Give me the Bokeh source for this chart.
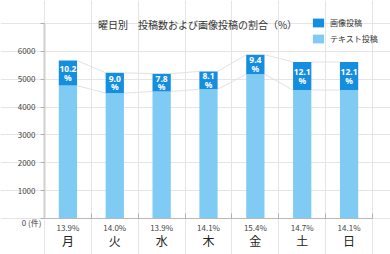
from bokeh.plotting import figure
from bokeh.models import (Range1d, FixedTicker, ColumnDataSource, LabelSet, Label,
                          Legend, LegendItem, LinearAxis)
from bokeh.core.properties import value
from bokeh.embed import file_html
from bokeh.resources import INLINE

# Posts per weekday (counts) and the shares printed on the chart
days = ["月", "火", "水", "木", "金", "土", "日"]
day_share = ["13.9%", "14.0%", "13.9%", "14.1%", "15.4%", "14.7%", "14.1%"]
text_posts = [4770, 4500, 4560, 4640, 5180, 4610, 4610]
image_posts = [900, 730, 640, 640, 700, 1010, 1010]
image_share = ["10.2", "9.0", "7.8", "8.1", "9.4", "12.1", "12.1"]
y_ticks = [0, 1000, 2000, 3000, 4000, 5000, 6000, 7000]

FONT = "Noto Sans CJK JP"
NUM_FONT = "Noto Sans"
LIGHT = "#80cbf4"
DARK = "#158ee0"
BAR_W = 0.39

W, H = 390, 254
# plot area inside the canvas (pixels): axes cross at (LEFT, BOTTOM)
LEFT, RIGHT, TOP, BOTTOM = 44, 372, 23, 218

n = len(days)
centers = [i + 0.5 for i in range(n)]
totals = [t + m for t, m in zip(text_posts, image_posts)]
y_max = y_ticks[-1]

# the frame spans the whole canvas so that titles and labels outside the axes stay visible
px_x = (RIGHT - LEFT) / n
px_y = (BOTTOM - TOP) / y_max
x_range = Range1d(-LEFT / px_x, (W - LEFT) / px_x)
y_range = Range1d(-(H - BOTTOM) / px_y, BOTTOM / px_y)

src = ColumnDataSource(dict(
    x=centers, text=text_posts, total=totals,
    mid=[(t + s) / 2 for t, s in zip(text_posts, totals)],
    share=image_share, pct=["%"] * n, day=days, day_share=day_share, zero=[0] * n,
))

p = figure(width=W, height=H, output_backend="svg", toolbar_location=None,
           x_range=x_range, y_range=y_range, x_axis_location=None, y_axis_location=None,
           min_border=0)
p.outline_line_color = None
p.background_fill_color = "white"
p.border_fill_color = "white"

# series lines joining neighbouring bars at the stack boundaries
for level in ("total", "text"):
    vals = src.data[level]
    p.segment(x0=[c + BAR_W / 2 for c in centers[:-1]], y0=vals[:-1],
              x1=[c - BAR_W / 2 for c in centers[1:]], y1=vals[1:],
              line_color="#e2e2e2", line_width=1)

light = p.vbar(x="x", width=BAR_W, bottom=0, top="text", source=src,
               fill_color=LIGHT, line_color=None)
dark = p.vbar(x="x", width=BAR_W, bottom="text", top="total", source=src,
              fill_color=DARK, line_color=None)

# image-post share inside the dark segment
for col, off in (("share", 4), ("pct", -4)):
    p.add_layout(LabelSet(x="x", y="mid", text=col, source=src, y_offset=off,
                          text_align="center", text_baseline="middle",
                          text_font=value(NUM_FONT), text_font_size="8.5px",
                          text_font_style="bold", text_color="white"))

# category labels under the axis
p.add_layout(LabelSet(x="x", y="zero", text="day_share", source=src, y_offset=-9,
                      text_align="center", text_baseline="middle",
                      text_font=value(FONT), text_font_size="8px", text_color="#444444"))
p.add_layout(LabelSet(x="x", y="zero", text="day", source=src, y_offset=-22,
                      text_align="center", text_baseline="middle",
                      text_font=value(FONT), text_font_size="12px", text_color="#222222"))

# y axis
ya = LinearAxis(fixed_location=0, bounds=(0, y_max))
ya.ticker = FixedTicker(ticks=y_ticks, minor_ticks=[])
ya.major_label_overrides = {0: "", y_max: ""}
ya.axis_line_color = "#d0d0d0"
ya.axis_line_width = 2
ya.major_tick_line_color = "#b0b0b0"
ya.major_tick_out = 4
ya.major_tick_in = 0
ya.major_label_standoff = 5
ya.major_label_text_font = FONT
ya.major_label_text_font_size = "8px"
ya.major_label_text_color = "#444444"
p.add_layout(ya, "left")
p.add_layout(Label(x=-3 / px_x, y=0, y_offset=-4, text="0 (件)", text_align="right",
                   text_baseline="middle", text_font=FONT, text_font_size="8px",
                   text_color="#444444"))

# x axis: only boundary ticks pointing inward
xa = LinearAxis(fixed_location=0, bounds=(0, n))
xa.ticker = FixedTicker(ticks=[], minor_ticks=list(range(1, n + 1)))
xa.major_label_text_font_size = "0px"
xa.axis_line_color = "#b8b8b8"
xa.axis_line_width = 1
xa.minor_tick_line_color = "#b0b0b0"
xa.minor_tick_in = 5
xa.minor_tick_out = 0
xa.major_tick_in = 0
xa.major_tick_out = 0
p.add_layout(xa, "below")

# title
p.add_layout(Label(x=(197 - LEFT) / px_x, y=(BOTTOM - 24) / px_y,
                   text="曜日別　投稿数および画像投稿の割合（%）",
                   text_align="center", text_baseline="middle", text_font=FONT,
                   text_font_size="10px", text_color="#333333"))

legend = Legend(items=[LegendItem(label="画像投稿", renderers=[dark]),
                       LegendItem(label="テキスト投稿", renderers=[light])],
                location=(311, H - 44), glyph_width=14, glyph_height=11, label_height=11,
                label_width=10, spacing=5, padding=0, margin=0, label_standoff=5,
                border_line_color=None, background_fill_alpha=0,
                label_text_font=FONT, label_text_font_size="8px",
                label_text_color="#333333")
p.add_layout(legend)

open("out.html", "w").write(file_html(p, INLINE))
